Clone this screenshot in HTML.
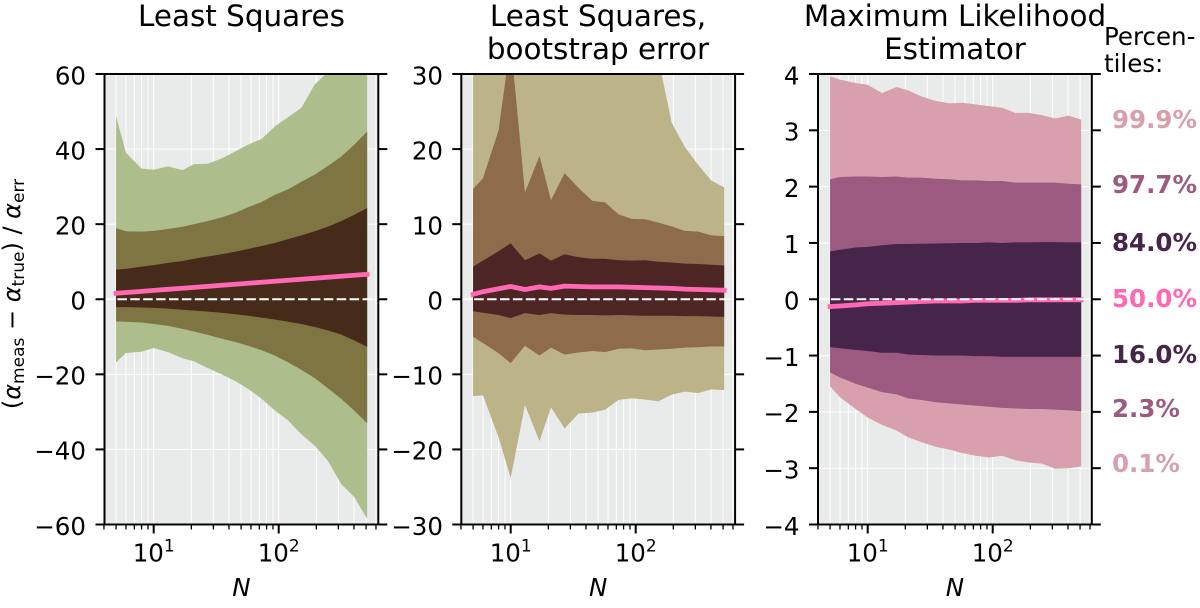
<!DOCTYPE html>
<html lang="en">
<head>
<meta charset="utf-8">
<title>Percentile bands of alpha estimators</title>
<style>
html,body{margin:0;padding:0;background:#fff;width:1200px;height:608px;overflow:hidden}
svg{display:block}
text{font-family:"DejaVu Sans","Liberation Sans",sans-serif;fill:#000}
</style>
</head>
<body>
<svg id="figure" xmlns="http://www.w3.org/2000/svg" width="1200" height="608" viewBox="0 0 1200 608">
  <g id="plots"></g>
  <g font-size="29.4" text-anchor="middle">
    <text x="241.5" y="26">Least Squares</text>
    <text x="598" y="26">Least Squares,</text>
    <text x="598" y="59">bootstrap error</text>
    <text x="955" y="26">Maximum Likelihood</text>
    <text x="955" y="59">Estimator</text>
  </g>
  <text transform="translate(20,294) rotate(-90)" text-anchor="middle" font-size="24">(<tspan font-style="italic">α</tspan><tspan font-size="17" dy="4">meas</tspan><tspan dy="-4"> − </tspan><tspan font-style="italic">α</tspan><tspan font-size="17" dy="4">true</tspan><tspan dy="-4">) / </tspan><tspan font-style="italic">α</tspan><tspan font-size="17" dy="4">err</tspan></text>
  <g font-size="24.5">
    <text x="1104" y="45">Percen-</text>
    <text x="1104" y="72">tiles:</text>
    <g font-weight="bold">
      <text x="1112" y="128" style="fill:#d8a0ac">99.9%</text>
      <text x="1112" y="193" style="fill:#9c5a80">97.7%</text>
      <text x="1112" y="251" style="fill:#47254b">84.0%</text>
      <text x="1112" y="307" style="fill:#ff69b4">50.0%</text>
      <text x="1112" y="363" style="fill:#47254b">16.0%</text>
      <text x="1112" y="417" style="fill:#9c5a80">2.3%</text>
      <text x="1112" y="472" style="fill:#d8a0ac">0.1%</text>
    </g>
  </g>
</svg>
<script>
// Sample sizes shared by all panels
const nValues = [5,6,8,10,13,17,21,27,35,45,57,73,93,119,152,194,247,316,403,510];

// Least Squares percentiles
const ls999 = [48.7,39,34.8,34.5,35.4,34.4,36,36.1,37.5,39.4,41.2,42.7,46,48.5,51,57.2,60.5,65,70,75];
const ls977 = [18.9,18.1,18,18.2,18.7,19.3,20,20.8,21.8,23,24.5,25.9,27.8,29.3,31.3,33.2,35.5,38,41.2,44.7];
const ls840 = [7.9,8.1,8.7,9.1,9.7,10.2,10.8,11.4,12,12.7,13.4,14.2,15,16,17,18.1,19.3,20.8,22.5,24.3];
const ls500 = [1.6,1.8,2.1,2.36,2.65,2.94,3.17,3.44,3.72,4,4.26,4.53,4.8,5.06,5.33,5.6,5.86,6.13,6.4,6.65];
const ls160 = [-2.1,-2.1,-2.2,-2.3,-2.5,-2.8,-3,-3.3,-3.6,-4,-4.4,-4.9,-5.4,-6,-6.6,-7.4,-8.3,-9.4,-11,-12.7];
const ls023 = [-5.9,-6,-6.2,-6.6,-7.1,-7.9,-8.6,-9.5,-10.5,-11.4,-12.4,-13.6,-15,-16.8,-18.8,-21,-23.7,-26.5,-29.7,-33];
const ls001 = [-16.8,-14.3,-14,-13,-14.1,-15.7,-16.5,-18.3,-20,-21.8,-23.9,-26.5,-29.6,-32.3,-36,-39,-43,-49.2,-52.7,-58.5];

// Bootstrap error percentiles
const bs999 = [40,42,45,60,50,48,45,44,42,42,40,40,38,36,32,23.5,20.3,17.9,15.8,14.9];
const bs977 = [14.7,16.1,22.5,34.3,14.2,19.1,13.2,16.8,14.8,13.1,12.9,11.3,10.7,10.65,10.2,9.7,9.1,9,8.5,8.4];
const bs840 = [4.35,5.15,6.4,7.45,5.2,6.1,5.15,6,5.6,5.4,5.4,5.2,5.15,5.2,5,4.9,4.75,4.7,4.6,4.5];
const bs500 = [0.65,1,1.4,1.7,1.3,1.65,1.45,1.75,1.7,1.65,1.65,1.65,1.6,1.55,1.5,1.45,1.35,1.3,1.25,1.2];
const bs160 = [-1.6,-1.8,-2.1,-2.5,-1.85,-2.1,-1.85,-2.05,-2.1,-2.1,-2.15,-2.1,-2.15,-2.2,-2.2,-2.2,-2.25,-2.25,-2.3,-2.35];
const bs023 = [-5,-5.85,-7.2,-8.5,-6.2,-7.5,-6.45,-7.35,-7.1,-6.9,-7.05,-6.6,-6.55,-6.8,-6.7,-6.6,-6.45,-6.4,-6.3,-6.3];
const bs001 = [-12.9,-12.8,-18.4,-23.8,-14.1,-18.9,-14.4,-17.2,-15.2,-15.1,-14.7,-13.4,-13.2,-13.35,-13.6,-12.7,-12.3,-12.5,-12,-12.1];

// Maximum likelihood percentiles
const ml999 = [3.96,3.9,3.84,3.81,3.66,3.77,3.71,3.6,3.52,3.48,3.49,3.46,3.43,3.4,3.31,3.31,3.27,3.21,3.26,3.19];
const ml977 = [2.13,2.17,2.18,2.18,2.17,2.18,2.16,2.16,2.14,2.13,2.11,2.11,2.1,2.1,2.07,2.07,2.07,2.07,2.05,2.04];
const ml840 = [0.85,0.88,0.92,0.93,0.96,0.98,0.98,0.985,0.99,0.995,1,1,1.01,1,1.01,1.01,1.015,1.015,1.01,1.01];
const ml500 = [-0.13,-0.12,-0.1,-0.08,-0.07,-0.06,-0.05,-0.04,-0.03,-0.03,-0.03,-0.02,-0.02,-0.02,-0.02,-0.01,-0.01,-0.01,-0.01,-0.01];
const ml160 = [-0.85,-0.87,-0.9,-0.92,-0.95,-0.95,-0.98,-0.99,-1,-1,-1,-1.01,-1.01,-1.02,-1.02,-1.02,-1.02,-1.02,-1.02,-1.02];
const ml023 = [-1.3,-1.39,-1.5,-1.57,-1.65,-1.69,-1.76,-1.79,-1.83,-1.85,-1.87,-1.89,-1.91,-1.93,-1.94,-1.95,-1.95,-1.96,-1.97,-1.99];
const ml001 = [-1.55,-1.74,-1.95,-2.1,-2.23,-2.33,-2.45,-2.54,-2.62,-2.67,-2.73,-2.78,-2.81,-2.78,-2.86,-2.9,-2.92,-3.01,-3,-2.97];

// Tick labels
const lsYTicks = [60,40,20,0,-20,-40,-60];
const bsYTicks = [30,20,10,0,-10,-20,-30];
const mlYTicks = [4,3,2,1,0,-1,-2,-3,-4];
const xMajorExponents = [1,2];
const xMinorTicks = [4,5,6,7,8,9,20,30,40,50,60,70,80,90,200,300,400,500,600];

const panels = [
  {key:'least-squares', left:104.5, x10:153.7, labelRight:86, yMax:60, yTicks:lsYTicks,
   upper:[ls999,ls977,ls840], lower:[ls001,ls023,ls160], median:ls500, colors:['#adbd8b','#7f7542','#472b1a']},
  {key:'bootstrap', left:461.3, x10:510.7, labelRight:443, yMax:30, yTicks:bsYTicks,
   upper:[bs999,bs977,bs840], lower:[bs001,bs023,bs160], median:bs500, colors:['#bcb488','#8e6b4a','#4d2524']},
  {key:'mle', left:818, x10:867.7, labelRight:799.5, yMax:4, yTicks:mlYTicks,
   upper:[ml999,ml977,ml840], lower:[ml001,ml023,ml160], median:ml500, colors:['#d8a0ac','#9c5a80','#47254b']}
];

const SVGNS = 'http://www.w3.org/2000/svg';
const TOP = 74, BOTTOM = 524.5, WIDTH = 273.8, DECADE = 125;
const root = document.getElementById('plots');

function make(tag, parent, attrs) {
  const node = document.createElementNS(SVGNS, tag);
  for (const k in attrs) node.setAttribute(k, attrs[k]);
  parent.appendChild(node);
  return node;
}

panels.forEach(function (p, idx) {
  const right = p.left + WIDTH;
  const xScale = function (n) { return p.x10 + DECADE * (Math.log10(n) - 1); };
  const yScale = function (v) { return TOP + (p.yMax - v) / (2 * p.yMax) * (BOTTOM - TOP); };

  const g = make('g', root, {});
  
  

  const bg = make('rect', g, {x:p.left, y:TOP, width:WIDTH, height:BOTTOM - TOP, fill:'#e9eaea'});
  
  

  // grid
  xMinorTicks.concat([10,100]).forEach(function (n) {
    if (n <= 4) return;
    const gl = make('line', g, {x1:xScale(n), x2:xScale(n), y1:TOP, y2:BOTTOM, stroke:'#fff', 'stroke-width':1});
    
    
  });
  p.yTicks.forEach(function (t) {
    const gl = make('line', g, {x1:p.left, x2:right, y1:yScale(t), y2:yScale(t), stroke:'#fff', 'stroke-width':1});
    
    
  });

  // clip
  const clip = make('clipPath', g, {id:'clip-' + idx});
  make('rect', clip, {x:p.left, y:TOP, width:WIDTH, height:BOTTOM - TOP});
  const plot = make('g', g, {'clip-path':'url(#clip-' + idx + ')'});
  
  

  // percentile bands
  p.upper.forEach(function (up, b) {
    const lo = p.lower[b];
    const top = nValues.map(function (n, i) { return xScale(n).toFixed(2) + ',' + yScale(up[i]).toFixed(2); });
    const bot = nValues.map(function (n, i) { return xScale(n).toFixed(2) + ',' + yScale(lo[i]).toFixed(2); }).reverse();
    const band = make('polygon', plot, {points:top.concat(bot).join(' '), fill:p.colors[b]});
    
    
  });

  // median line
  const medianLine = make('polyline', plot, {
    points:nValues.map(function (n, i) { return xScale(n).toFixed(2) + ',' + yScale(p.median[i]).toFixed(2); }).join(' '),
    fill:'none', stroke:'#ff69b4', 'stroke-width':4.8, 'stroke-linecap':'square', 'stroke-linejoin':'round'
  });
  
  

  // zero line
  const zero = make('line', plot, {x1:p.left, x2:right, y1:yScale(0), y2:yScale(0), stroke:'#fff', 'stroke-width':2, 'stroke-dasharray':'9.5 3.4'});
  
  

  // spines
  const leftSpine = make('line', g, {x1:p.left, x2:p.left, y1:TOP, y2:BOTTOM, stroke:'#000', 'stroke-width':2});
  
  
  const rightSpine = make('line', g, {x1:right, x2:right, y1:TOP, y2:BOTTOM, stroke:'#000', 'stroke-width':2});
  
  
  const topSpine = make('line', g, {x1:p.left, x2:right, y1:TOP, y2:TOP, stroke:'#000', 'stroke-width':2});
  
  
  const bottomSpine = make('line', g, {x1:p.left, x2:right, y1:BOTTOM, y2:BOTTOM, stroke:'#000', 'stroke-width':2});
  
  

  // y ticks and labels
  p.yTicks.forEach(function (t) {
    const y = yScale(t);
    const lt = make('line', g, {x1:p.left - 9, x2:p.left, y1:y, y2:y, stroke:'#000', 'stroke-width':2});
    
    
    const rt = make('line', g, {x1:right, x2:right + 9, y1:y, y2:y, stroke:'#000', 'stroke-width':2});
    
    
    const lbl = make('text', g, {x:p.labelRight, y:y + 10.3, 'text-anchor':'end', 'font-size':24.5});
    
    
    lbl.textContent = String(t).replace('-', '\u2212');
  });

  // x ticks
  xMinorTicks.forEach(function (n) {
    const x = xScale(n);
    const mt = make('line', g, {x1:x, x2:x, y1:BOTTOM, y2:BOTTOM + 5, stroke:'#000', 'stroke-width':1.3});
    
    
  });
  xMajorExponents.forEach(function (e) {
    const x = xScale(Math.pow(10, e));
    const jt = make('line', g, {x1:x, x2:x, y1:BOTTOM, y2:BOTTOM + 9, stroke:'#000', 'stroke-width':2});
    
    
    const lbl = make('text', g, {x:x, y:561.5, 'text-anchor':'middle', 'font-size':24.5});
    
    
    const base = make('tspan', lbl, {});
    base.textContent = '10';
    const sup = make('tspan', lbl, {'font-size':17, dy:-10});
    sup.textContent = String(e);
  });

  // x axis title
  const xt = make('text', g, {x:p.left + WIDTH / 2, y:596, 'text-anchor':'middle', 'font-size':24.5, 'font-style':'italic'});
  
  
  xt.textContent = 'N';
});
</script>
</body>
</html>
